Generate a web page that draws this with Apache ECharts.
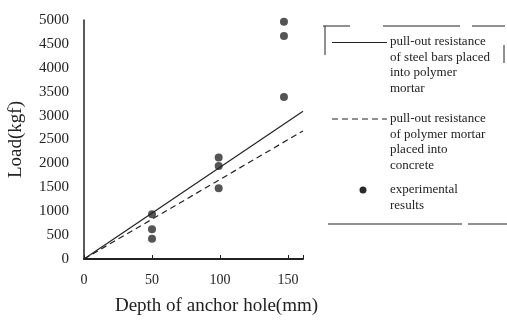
<!DOCTYPE html>
<html>
<head>
<meta charset="utf-8">
<script src="https://cdn.jsdelivr.net/npm/echarts@6/dist/echarts.min.js"></script>
<style>
  html, body { margin: 0; padding: 0; background: #fff; }
  #chart { width: 507px; height: 322px; }
</style>
</head>
<body>
<div id="chart"></div>
<script>
// depth (mm) vs load (kgf)
const depthTicks = [0, 50, 100, 150]
const loadTicks = [0, 500, 1000, 1500, 2000, 2500, 3000, 3500, 4000, 4500, 5000]

// experimental results
const expDepth = [50, 50, 50, 99, 99, 99, 147, 147, 147]
const expLoad = [935, 620, 425, 2125, 1945, 1480, 4965, 4665, 3390]

// fitted lines (start and end points)
const steelDepth = [0, 161]
const steelLoad = [0, 3090]
const mortarDepth = [0, 161]
const mortarLoad = [0, 2680]

const legendSteel = 'pull-out resistance\nof steel bars placed\ninto polymer\nmortar'
const legendMortar = 'pull-out resistance\nof polymer mortar\nplaced into\nconcrete'
const legendExp = 'experimental\nresults'

const serif = '"Liberation Serif", "DejaVu Serif", serif'
const ink = '#222'

const pairs = (xs, ys) => xs.map((x, i) => [x, ys[i]])

const chart = echarts.init(document.getElementById('chart'))

const legendText = (x, y, text) => ({
  type: 'text',
  left: x,
  top: y,
  style: { text, font: '13px ' + serif, fill: ink, lineHeight: 15.5 }
})
const seg = (x1, y1, x2, y2, extra) => ({
  type: 'line',
  shape: { x1, y1, x2, y2 },
  style: Object.assign({ stroke: ink, lineWidth: 1 }, extra || {})
})

chart.setOption({
  backgroundColor: '#fff',
  animation: false,
  grid: { left: 84, right: 204, top: 20, bottom: 63 },
  xAxis: {
    type: 'value',
    min: 0,
    max: 161,
    interval: 50,
    name: 'Depth of anchor hole(mm)',
    nameLocation: 'middle',
    nameGap: 38,
    nameTextStyle: { fontFamily: serif, fontSize: 19, color: ink, padding: [0, 0, 0, 46] },
    axisLine: { onZero: false, lineStyle: { color: ink, width: 2 } },
    axisTick: { show: true, inside: true, length: 4, lineStyle: { color: ink } },
    axisLabel: {
      fontFamily: serif, fontSize: 14, color: ink, margin: 14,
      formatter: v => depthTicks.includes(v) ? String(v) : ''
    },
    splitLine: { show: false }
  },
  yAxis: {
    type: 'value',
    min: 0,
    max: 5000,
    interval: 500,
    name: 'Load(kgf)',
    nameLocation: 'middle',
    nameGap: 58,
    nameTextStyle: { fontFamily: serif, fontSize: 19, color: ink },
    axisLine: { show: true, lineStyle: { color: ink, width: 1.5 } },
    axisTick: { show: false },
    axisLabel: {
      fontFamily: serif, fontSize: 15, color: ink, margin: 15,
      formatter: v => loadTicks.includes(v) ? String(v) : ''
    },
    splitLine: { show: false }
  },
  series: [
    {
      name: 'steel',
      type: 'line',
      data: pairs(steelDepth, steelLoad),
      symbol: 'none',
      lineStyle: { color: ink, width: 1.2 }
    },
    {
      name: 'mortar',
      type: 'line',
      data: pairs(mortarDepth, mortarLoad),
      symbol: 'none',
      lineStyle: { color: ink, width: 1.2, type: [6, 4] }
    },
    {
      name: 'experimental',
      type: 'scatter',
      data: pairs(expDepth, expLoad),
      symbolSize: 8,
      itemStyle: { color: '#2a2a2a' }
    }
  ],
  graphic: [
    // legend frame, broken like the scan
    seg(323, 26, 350, 26),
    seg(383, 26, 460, 26),
    seg(472, 26, 505, 26),
    seg(325, 26, 325, 55),
    seg(504, 45, 504, 63),
    seg(328, 224, 462, 224),
    seg(468, 224, 507, 224),
    // legend symbols
    seg(332, 42.5, 387, 42.5),
    seg(332, 119, 387, 119, { lineDash: [6, 4] }),
    { type: 'circle', shape: { cx: 363, cy: 190, r: 3.5 }, style: { fill: '#2a2a2a' } },
    legendText(390, 34, legendSteel),
    legendText(390, 111, legendMortar),
    legendText(390, 182, legendExp)
  ]
})
</script>
</body>
</html>
